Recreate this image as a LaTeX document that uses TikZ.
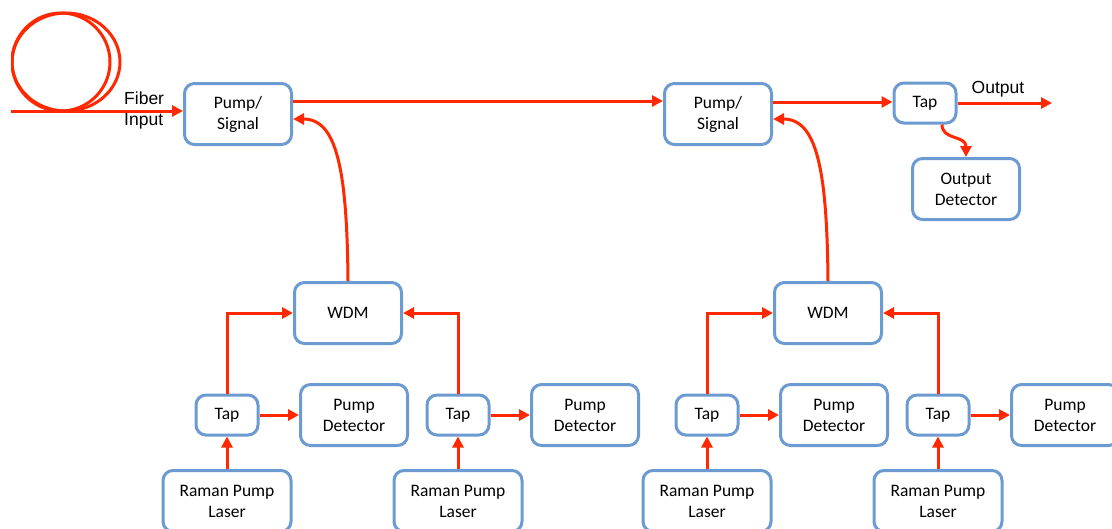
\documentclass[tikz,border=0pt]{standalone}
\usepackage{fontspec}
\setmainfont{Carlito}
\newfontfamily\arialf{Liberation Sans}
\usetikzlibrary{arrows.meta}
\definecolor{fib}{RGB}{255,40,0}
\definecolor{bord}{RGB}{108,155,210}
\begin{document}
\begin{tikzpicture}[x=1pt,y=-1pt,
  box/.style={draw=bord,line width=3pt,rounded corners=10pt,fill=white,align=center,
    font=\fontsize{17.5}{21}\selectfont,inner sep=0pt},
  bigbox/.style={box,minimum width=107pt,minimum height=61pt},
  tapbox/.style={box,minimum width=62pt,minimum height=40pt},
  rplbox/.style={box,minimum width=128pt,minimum height=61pt},
  arr/.style={draw=fib,line width=3pt,-{Triangle[length=11pt,width=11pt]}},
  fibline/.style={draw=fib,line width=3pt},
  lbl/.style={font=\arialf\fontsize{17.5}{21}\selectfont,inner sep=0pt}]
\useasboundingbox (0,0) rectangle (1112,528);
\clip (0,0) rectangle (1112,528);
% fiber coil
\begin{scope}
  \clip (11,0) rectangle (200,528);
  \draw[fibline] (61,62) ellipse [x radius=49, y radius=49];
  \draw[fibline] (66,62) ellipse [x radius=54, y radius=49];
\end{scope}
% nodes
\node[bigbox] (ps1) at (238,114) {Pump/\\Signal};
\node[bigbox] (ps2) at (718,114) {Pump/\\Signal};
\node[tapbox] (tapo) at (925,103) {Tap};
\node[bigbox] (od) at (966,189) {Output\\Detector};
\node[bigbox] (wdm1) at (348,313) {WDM};
\node[bigbox] (wdm2) at (828,313) {WDM};
\node[tapbox] (tap1) at (227,415) {Tap};
\node[bigbox] (pd1) at (354,415) {Pump\\Detector};
\node[tapbox] (tap2) at (458,415) {Tap};
\node[bigbox] (pd2) at (585,415) {Pump\\Detector};
\node[tapbox] (tap3) at (707,415) {Tap};
\node[bigbox] (pd3) at (834,415) {Pump\\Detector};
\node[tapbox] (tap4) at (938,415) {Tap};
\node[bigbox] (pd4) at (1065,415) {Pump\\Detector};
\node[rplbox] (rpl1) at (227,501) {Raman Pump\\Laser};
\node[rplbox] (rpl2) at (458,501) {Raman Pump\\Laser};
\node[rplbox] (rpl3) at (707,501) {Raman Pump\\Laser};
\node[rplbox] (rpl4) at (938,501) {Raman Pump\\Laser};
% labels
\node[lbl,align=left,anchor=west] (fibin) at (124,110) {Fiber\\Input};
\node[lbl,anchor=base] (outl) at (998,93) {Output};
% connectors
\coordinate (fin) at (11,111);
\coordinate (oend) at (1052,103);
\draw[arr] (fin) -- (ps1.west |- fin);
\draw[arr] ([yshift=13pt]ps1.east) -- ([yshift=13pt]ps2.west);
\draw[arr] ([yshift=12pt]ps2.east) -- ([yshift=1pt]tapo.west);
\draw[arr] (tapo.east) -- (oend);
\draw[arr] ([xshift=17pt]tapo.south) .. controls +(0,16) and +(0,-22) .. (od.north);
\draw[arr] (wdm1.north) .. controls +(-1,-111) and +(44,0) .. ([yshift=-5pt]ps1.east);
\draw[arr] (wdm2.north) .. controls +(-1,-111) and +(44,0) .. ([yshift=-5pt]ps2.east);
\draw[arr] (tap1.north) |- (wdm1.west);
\draw[arr] (tap2.north) |- (wdm1.east);
\draw[arr] (tap3.north) |- (wdm2.west);
\draw[arr] (tap4.north) |- (wdm2.east);
\foreach \i in {1,2,3,4}{
  \draw[arr] (rpl\i.north) -- (tap\i.south);
  \draw[arr] (tap\i.east) -- (pd\i.west);
}
\end{tikzpicture}
\end{document}
